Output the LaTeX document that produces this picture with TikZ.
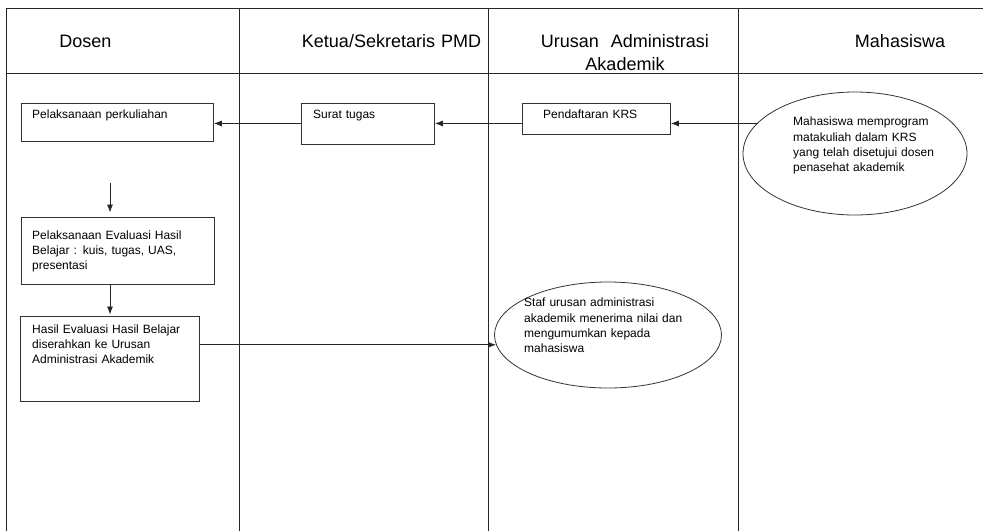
\documentclass[tikz,border=0pt]{standalone}
\usepackage{fontspec}
\setmainfont{Liberation Sans}
\usetikzlibrary{shapes.geometric,arrows.meta,positioning}

\tikzset{
	lane/.style  = {draw=black!85, line width=0.8pt},
	box/.style   = {draw=black!80, line width=0.8pt, rectangle,
	                anchor=north west, inner sep=0pt},
	oval/.style  = {draw=black!80, line width=0.8pt, ellipse, inner sep=0pt},
	txt/.style   = {font=\fontsize{12}{15.3}\selectfont, align=left,
	                text width=190pt, inner sep=0pt, anchor=base west},
	head/.style  = {font=\fontsize{18}{23}\selectfont, align=center,
	                text width=240pt, inner sep=0pt, anchor=base},
	arr/.style   = {draw=black!85, line width=0.8pt,
	                -{Latex[length=8pt,width=6pt]}}
}

\begin{document}
\begin{tikzpicture}[x=1pt, y=-1pt]

	\useasboundingbox (0,0) rectangle (983,531);

	% lanes
	\draw[lane] (983,8) -- (6,8) -- (6,531);
	\draw[lane] (6,73) -- (983,73);
	\foreach \x in {239,488,738}
		\draw[lane] (\x,8) -- (\x,531);

	\node[head] (hdosen) at (85.5,47) {Dosen};
	\node[head] (hketua) at (391.5,47) {Ketua/Sekretaris PMD};
	\node[head] (hurusan) at (625,47) {Urusan\ \ Administrasi\\Akademik};
	\node[head] (hmhs) at (900,47) {Mahasiswa};

	% boxes
	\node[box, minimum width=192pt, minimum height=38pt] (b1) at (21,103) {};
	\node[box, minimum width=133pt, minimum height=41pt] (b2) at (301,103) {};
	\node[box, minimum width=148pt, minimum height=31pt] (b3) at (522,103) {};
	\node[box, minimum width=193pt, minimum height=67pt] (b4) at (21,217) {};
	\node[box, minimum width=179pt, minimum height=85pt] (b5) at (20,316) {};

	\node[oval, minimum width=224pt, minimum height=123pt] (e1) at (855,153.5) {};
	\node[oval, minimum width=227pt, minimum height=106pt] (e2) at (608,335) {};

	\node[txt] (t1) at ([shift={(11,15.5)}]b1.north west) {Pelaksanaan perkuliahan};
	\node[txt] (t2) at ([shift={(12,15)}]b2.north west) {Surat tugas};
	\node[txt] (t3) at ([shift={(21,15)}]b3.north west) {Pendaftaran KRS};
	\node[txt] (t4) at ([shift={(11,22.3)}]b4.north west)
		{Pelaksanaan Evaluasi Hasil\\Belajar : kuis, tugas, UAS,\\presentasi};
	\node[txt] (t5) at ([shift={(12,17.3)}]b5.north west)
		{Hasil Evaluasi Hasil Belajar\\diserahkan ke Urusan\\Administrasi Akademik};
	\node[txt] (t6) at ([shift={(-62,-27.8)}]e1.center)
		{Mahasiswa memprogram\\matakuliah dalam KRS\\yang telah disetujui dosen\\penasehat akademik};
	\node[txt] (t7) at ([shift={(-84,-28.3)}]e2.center)
		{Staf urusan administrasi\\akademik menerima nilai dan\\mengumumkan kepada\\mahasiswa};

	% arrows
	\draw[arr] (e1.163) -- (e1.163 -| b3.east);
	\draw[arr] (b3.west |- e1.163) -- (b2.east |- e1.163);
	\draw[arr] (b2.west |- e1.163) -- (b1.east |- e1.163);

	\coordinate (d1) at (110,183);
	\draw[arr, shorten >=4.5pt] (d1) -- (b4.north -| d1);
	\draw[arr, shorten >=1.5pt] (b4.south -| d1) -- (b5.north -| d1);

	\draw[arr] (b5.east |- e2.185) -- (e2.185);

\end{tikzpicture}
\end{document}
